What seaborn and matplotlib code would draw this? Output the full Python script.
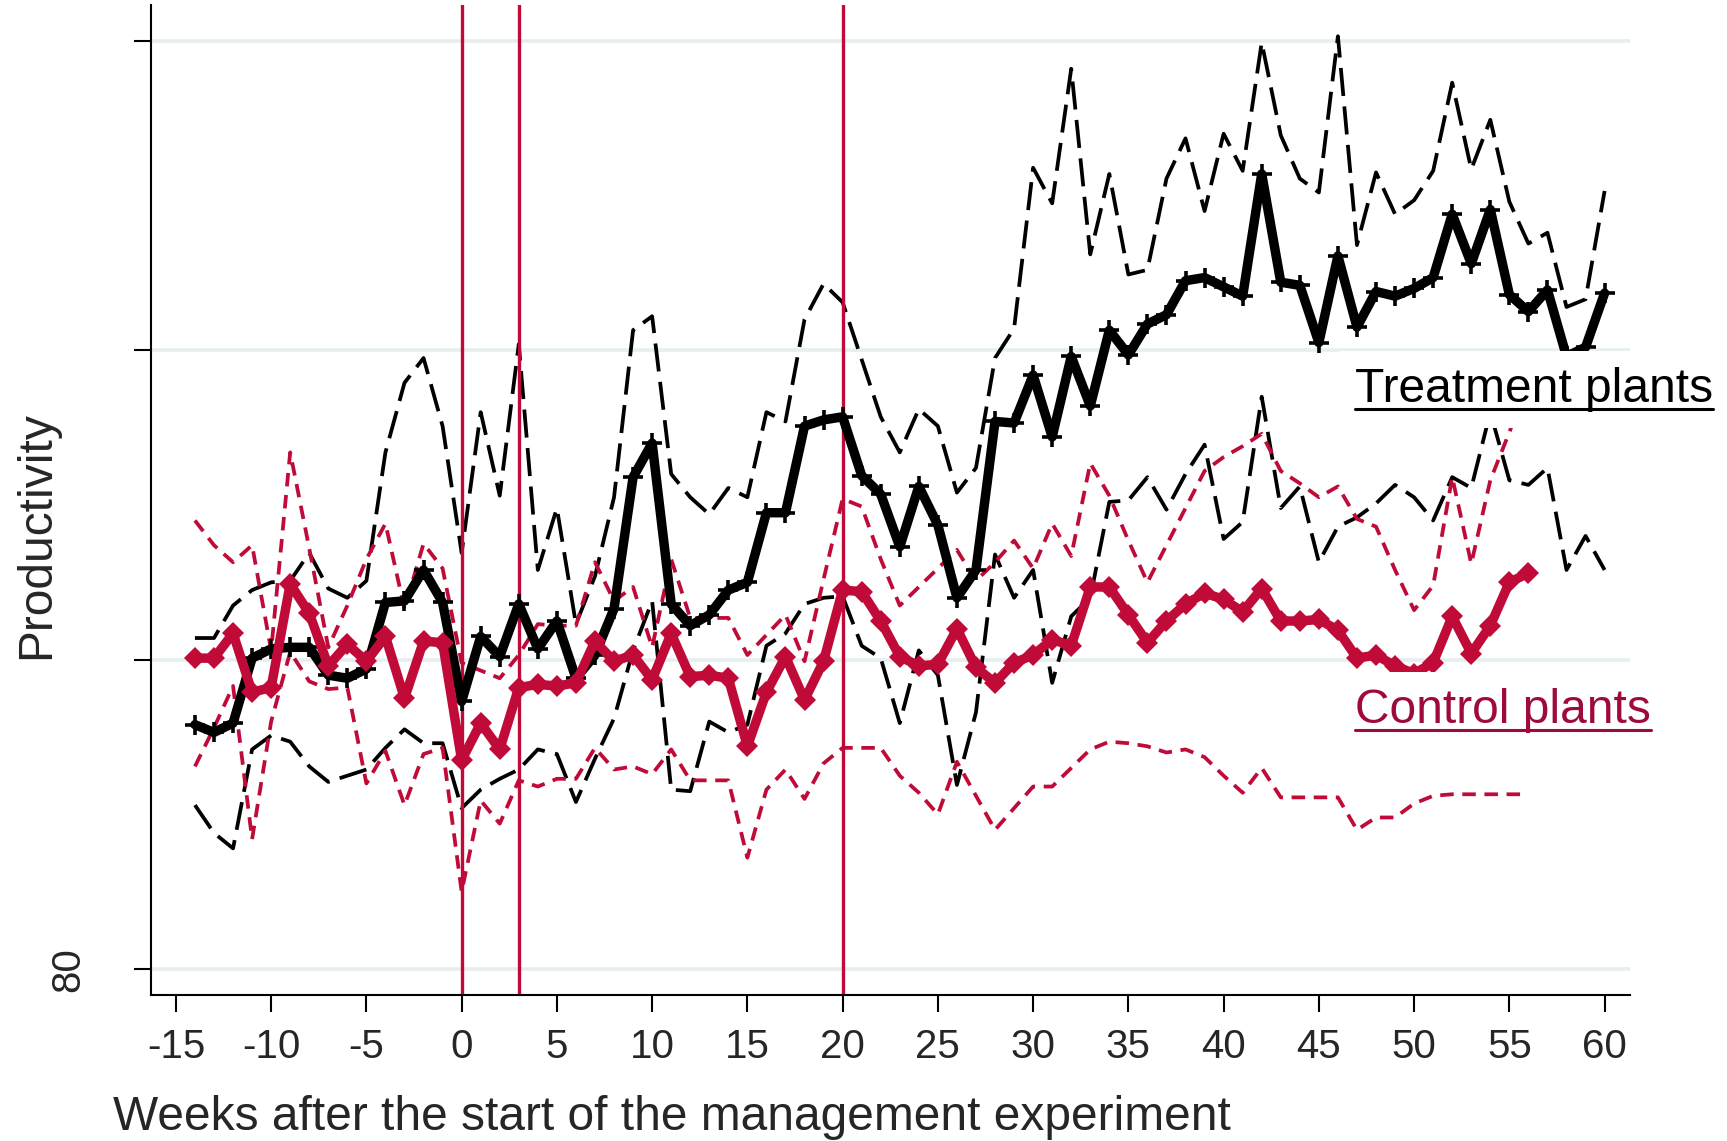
import numpy as np
import pandas as pd
import matplotlib
matplotlib.use("Agg")
import matplotlib.pyplot as plt
import seaborn as sns
from matplotlib.lines import Line2D

# ---------------- data ----------------
weeks_treat = list(range(-14, 61))
weeks_ctrl = list(range(-14, 57))

treat_mean = [95.8, 95.3, 95.9, 100.1, 100.7, 100.8, 100.8, 99.0, 98.8, 99.4,
              103.7, 103.8, 105.8, 103.7, 97.3, 101.5, 100.2, 103.6, 100.7, 102.5,
              98.8, 100.3, 103.3, 111.8, 114.0, 103.6, 102.2, 102.9, 104.5, 105.0,
              109.5, 109.5, 115.1, 115.5, 115.7, 111.9, 110.7, 107.3, 111.2, 108.7,
              104.0, 105.8, 115.4, 115.3, 118.4, 114.4, 119.6, 116.4, 121.3, 119.7,
              121.7, 122.3, 124.5, 124.7, 124.1, 123.5, 131.4, 124.4, 124.2, 120.5,
              126.1, 121.5, 123.8, 123.5, 124.0, 124.7, 128.8, 125.6, 129.1, 123.6,
              122.5, 123.9, 119.6, 120.2, 123.7]

treat_upper = [101.4, 101.4, 103.5, 104.5, 105.0, 105.1, 106.9, 104.6, 104.0, 105.1,
               113.4, 117.9, 119.5, 115.1, 106.9, 116.0, 110.6, 120.4, 105.8, 109.8,
               102.3, 105.4, 110.5, 121.3, 122.2, 112.0, 110.5, 109.4, 111.1, 110.5,
               116.0, 115.4, 122.0, 124.3, 123.1, 119.4, 115.7, 113.4, 116.2, 115.1,
               110.8, 112.4, 119.5, 121.4, 131.8, 129.5, 138.2, 126.2, 131.4, 124.9,
               125.2, 131.1, 133.7, 129.0, 134.0, 131.6, 139.9, 133.9, 131.1, 130.2,
               140.3, 126.8, 131.5, 128.8, 129.7, 131.6, 137.3, 131.7, 134.9, 129.6,
               126.9, 127.6, 122.8, 123.3, 130.3]

treat_lower = [90.6, 88.8, 87.8, 94.2, 95.1, 94.7, 93.1, 92.1, 92.5, 92.9,
               94.3, 95.5, 94.6, 94.6, 90.4, 91.6, 92.3, 92.9, 94.2, 93.9,
               90.8, 93.6, 96.2, 100.6, 103.8, 91.6, 91.5, 96.0, 95.3, 95.8,
               100.9, 101.7, 103.6, 104.0, 104.1, 100.9, 100.1, 95.9, 100.6, 99.0,
               91.9, 96.6, 106.8, 104.0, 105.8, 98.5, 102.8, 104.0, 110.2, 110.3,
               111.8, 109.7, 112.0, 113.9, 107.8, 108.9, 117.0, 109.8, 111.2, 106.3,
               108.6, 109.2, 110.1, 111.3, 110.5, 109.0, 111.8, 111.1, 116.0, 111.6,
               111.3, 112.4, 105.8, 108.0, 105.8]

ctrl_mean = [100.1, 100.1, 101.7, 97.9, 98.2, 104.9, 103.0, 99.6, 101.0, 99.9,
             101.5, 97.5, 101.2, 101.1, 93.5, 95.9, 94.2, 98.2, 98.4, 98.3,
             98.5, 101.2, 99.9, 100.3, 98.7, 101.7, 98.9, 99.0, 98.8, 94.4,
             97.9, 100.2, 97.4, 99.9, 104.5, 104.4, 102.5, 100.2, 99.6, 99.7,
             102.0, 99.5, 98.5, 99.8, 100.3, 101.3, 100.9, 104.7, 104.7, 102.9,
             101.1, 102.5, 103.6, 104.3, 103.9, 103.1, 104.6, 102.5, 102.5, 102.6,
             101.9, 100.1, 100.3, 99.6, 99.1, 99.8, 102.8, 100.4, 102.2, 105.0,
             105.6]

ctrl_upper = [109.0, 107.4, 106.3, 107.4, 100.6, 113.4, 107.2, 100.8, 103.5, 106.5,
              108.8, 103.3, 107.5, 105.9, 99.8, 99.3, 98.8, 100.3, 102.3, 102.2,
              102.2, 106.3, 103.8, 104.7, 100.8, 106.5, 102.7, 102.7, 102.7, 100.3,
              101.6, 102.9, 99.9, 105.2, 110.4, 109.9, 106.5, 103.5, 104.7, 105.9,
              107.1, 105.1, 106.3, 107.7, 105.9, 108.8, 106.7, 112.7, 110.6, 107.7,
              105.0, 107.4, 109.8, 112.2, 113.1, 113.8, 114.6, 112.2, 111.4, 110.5,
              111.2, 109.1, 108.6, 105.8, 103.2, 104.8, 111.8, 106.2, 111.6, 114.7,
              118.0]

ctrl_lower = [93.1, 95.6, 98.3, 88.4, 96.0, 100.5, 98.6, 98.1, 98.2, 92.0,
              94.1, 90.6, 93.9, 94.3, 85.0, 90.9, 89.4, 92.2, 91.8, 92.3,
              92.3, 94.3, 92.9, 93.1, 92.6, 94.2, 92.2, 92.2, 92.2, 87.2,
              91.6, 92.9, 91.0, 93.3, 94.3, 94.3, 94.3, 92.5, 91.4, 90.0,
              93.4, 91.2, 89.0, 90.4, 91.8, 91.8, 93.0, 94.2, 94.7, 94.6,
              94.4, 94.0, 94.2, 93.7, 92.5, 91.4, 93.0, 91.1, 91.1, 91.1,
              91.1, 89.0, 89.8, 89.8, 90.7, 91.2, 91.3, 91.3, 91.3, 91.3,
              91.3]

event_weeks = [0, 3, 20]
xtick_values = list(range(-15, 61, 5))
ytick_values = [80, 100, 120, 140]
ytick_labels = ["80", "", "", ""]

# ---------------- style ----------------
sns.set_style("white")
plt.rcParams['font.family'] = ['Liberation Sans', 'DejaVu Sans']

RED = '#C00A38'
RED_TXT = '#9E0A3C'
GRID = '#E6EEF0'

fig = plt.figure(figsize=(17.27, 11.41), dpi=100)
ax = fig.add_axes([0.0874, 0.1283, 0.8564, 0.8669])

def frame(w, v):
    return pd.DataFrame({"week": w, "value": v})

# confidence bands (dashed)
sns.lineplot(data=frame(weeks_treat, treat_upper), x="week", y="value", ax=ax,
             color='black', linewidth=2.7, linestyle=(0, (7.5, 2.8)), errorbar=None, zorder=2)
sns.lineplot(data=frame(weeks_treat, treat_lower), x="week", y="value", ax=ax,
             color='black', linewidth=2.7, linestyle=(0, (7.5, 2.8)), errorbar=None, zorder=2)
sns.lineplot(data=frame(weeks_ctrl, ctrl_upper), x="week", y="value", ax=ax,
             color=RED, linewidth=2.7, linestyle=(0, (3.6, 2.3)), errorbar=None, zorder=2)
sns.lineplot(data=frame(weeks_ctrl, ctrl_lower), x="week", y="value", ax=ax,
             color=RED, linewidth=2.7, linestyle=(0, (3.6, 2.3)), errorbar=None, zorder=2)

for wk in event_weeks:
    ax.axvline(wk, color=RED, linewidth=2.4, zorder=2.5)

# means
sns.lineplot(data=frame(weeks_treat, treat_mean), x="week", y="value", ax=ax,
             color='black', linewidth=6.8, marker='+', markersize=15,
             markeredgewidth=2.6, markeredgecolor='black', errorbar=None, zorder=3)
sns.lineplot(data=frame(weeks_ctrl, ctrl_mean), x="week", y="value", ax=ax,
             color=RED, linewidth=6.8, marker='D', markersize=11,
             markeredgewidth=0, markerfacecolor=RED, markeredgecolor=RED,
             errorbar=None, zorder=3.1)

ax.set_xlim(-16.31, 61.33)
ax.set_ylim(78.35, 142.29)
ax.set_xticks(xtick_values)
ax.set_xticklabels([str(v) for v in xtick_values])
ax.set_yticks(ytick_values)
ax.set_yticklabels(ytick_labels)
ax.set_xlabel("")
ax.set_ylabel("")

ax.yaxis.grid(True, color=GRID, linewidth=2.6)
ax.xaxis.grid(False)
ax.set_axisbelow(True)
for s in ['top', 'right']:
    ax.spines[s].set_visible(False)
for s in ['left', 'bottom']:
    ax.spines[s].set_color('black')
    ax.spines[s].set_linewidth(1.5)

ax.tick_params(axis='x', length=12, width=1.5, pad=12, labelsize=29, direction='out',
               bottom=True, color='black')
ax.tick_params(axis='y', length=12, width=1.5, pad=34, labelsize=29, direction='out',
               left=True, labelrotation=90, color='black')
for lab in ax.get_yticklabels():
    lab.set_verticalalignment('center')

fig.text(113 / 1727, 1 - 1130 / 1141, "Weeks after the start of the management experiment",
         ha='left', va='baseline', fontsize=34.5)
fig.text(37 / 1727, 1 - 535 / 1141, "Productivity", rotation=90,
         ha='center', va='center', fontsize=34.5)

# series labels with white boxes and underline
t1 = ax.text(46.89, 116.66, "Treatment plants", fontsize=34.5, color='black',
             ha='left', va='baseline', zorder=10,
             bbox=dict(boxstyle='square,pad=0.33', fc='white', ec='none'))
t2 = ax.text(46.89, 95.9, "Control plants", fontsize=34.5, color=RED_TXT,
             ha='left', va='baseline', zorder=10,
             bbox=dict(boxstyle='square,pad=0.33', fc='white', ec='none'))

fig.canvas.draw()
renderer = fig.canvas.get_renderer()
inv = fig.transFigure.inverted()
for t, col in [(t1, 'black'), (t2, RED_TXT)]:
    bb = t.get_window_extent(renderer=renderer)
    yline = bb.y0 + 3
    (x0, y0) = inv.transform((bb.x0, yline))
    (x1, _) = inv.transform((bb.x1, yline))
    fig.add_artist(Line2D([x0, x1], [y0, y0], transform=fig.transFigure,
                          color=col, linewidth=2.2, zorder=20))

fig.savefig("out.png", dpi=100)
